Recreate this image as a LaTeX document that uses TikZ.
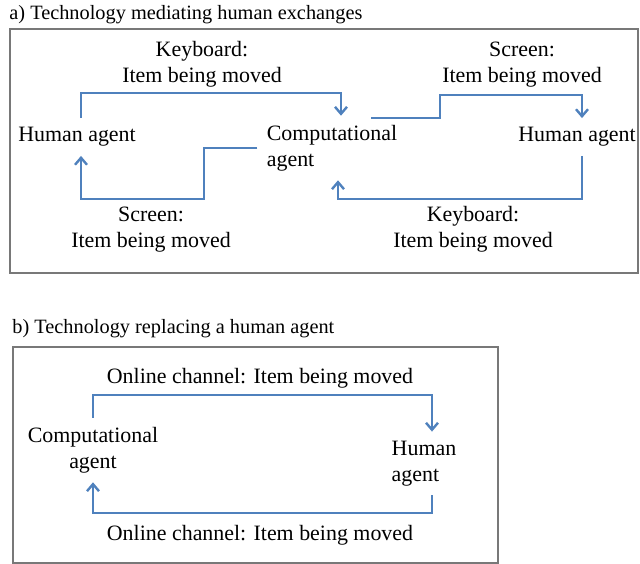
\documentclass[tikz,border=0pt]{standalone}
\usepackage{fontspec}
\setmainfont{Liberation Serif}
\usetikzlibrary{arrows.meta,calc}
\definecolor{flowblue}{RGB}{79,129,189}
\definecolor{framegray}{RGB}{120,120,120}
\begin{document}
\begin{tikzpicture}[x=0.5bp,y=-0.5bp,
    flow/.style={draw=flowblue,line width=1.2bp,-{Straight Barb[length=3.5bp,width=6bp]}},
    frame/.style={draw=framegray,line width=0.6bp},
    lbl/.style={align=center,inner sep=4.5bp,font=\fontsize{11}{13}\selectfont},
    ttl/.style={anchor=west,inner sep=0pt,font=\fontsize{10.2}{12}\selectfont}]
          \useasboundingbox (0,0) rectangle (640,564);
          % a) mediating
          \node[ttl] (ta) at (9,15) {a) Technology mediating human exchanges};
          \draw[frame] (10,29) rectangle (638,273);
          \node[lbl] (hl) at (77,137) {Human agent};
          \node[lbl,align=left] (ca) at (332,148) {Computational\\agent};
          \node[lbl] (hr) at (577,137) {Human agent};
          \node[lbl] (l1) at (202,64.5) {Keyboard:\\Item being moved};
          \node[lbl] (l2) at (522,64.5) {Screen:\\Item being moved};
          \node[lbl] (l3) at (151,229.5) {Screen:\\Item being moved};
          \node[lbl] (l4) at (473,229.5) {Keyboard:\\Item being moved};
          \coordinate (a1) at (341,93);
          \coordinate (a2) at (204,199);
          \coordinate (a3) at (371,118);
          \coordinate (a4) at (440,95);
          \coordinate (a5) at (338,199);
          \draw[flow] ($(hl.north)+(4,0)$) |- (a1) -- (a1 |- ca.north);
          \draw[flow] (ca.west) -| (a2) -| ($(hl.south)+(4,0)$);
          \draw[flow] (a3) -| (a4) -| ($(hr.north)+(5,0)$);
          \draw[flow] ($(hr.south)+(5,0)$) |- (a5) -- (a5 |- ca.south);
          % b) replacing
          \node[ttl] (tb) at (12,329) {b) Technology replacing a human agent};
          \draw[frame] (13,347) rectangle (498,563);
          \node[lbl] (cb) at (93,450) {Computational\\agent};
          \node[lbl,align=left] (hb) at (424,463.5) {Human\\agent};
          \node[lbl] (lb1) at (260,378) {Online channel: Item being moved};
          \node[lbl] (lb2) at (260,535) {Online channel: Item being moved};
          \coordinate (b1) at (432,395);
          \coordinate (b2) at (432,513);
          \draw[flow] (cb.north) |- (b1) -- (b1 |- hb.north);
          \draw[flow] (b2 |- hb.south) -- (b2) -| (cb.south);
        \end{tikzpicture}
\end{document}
